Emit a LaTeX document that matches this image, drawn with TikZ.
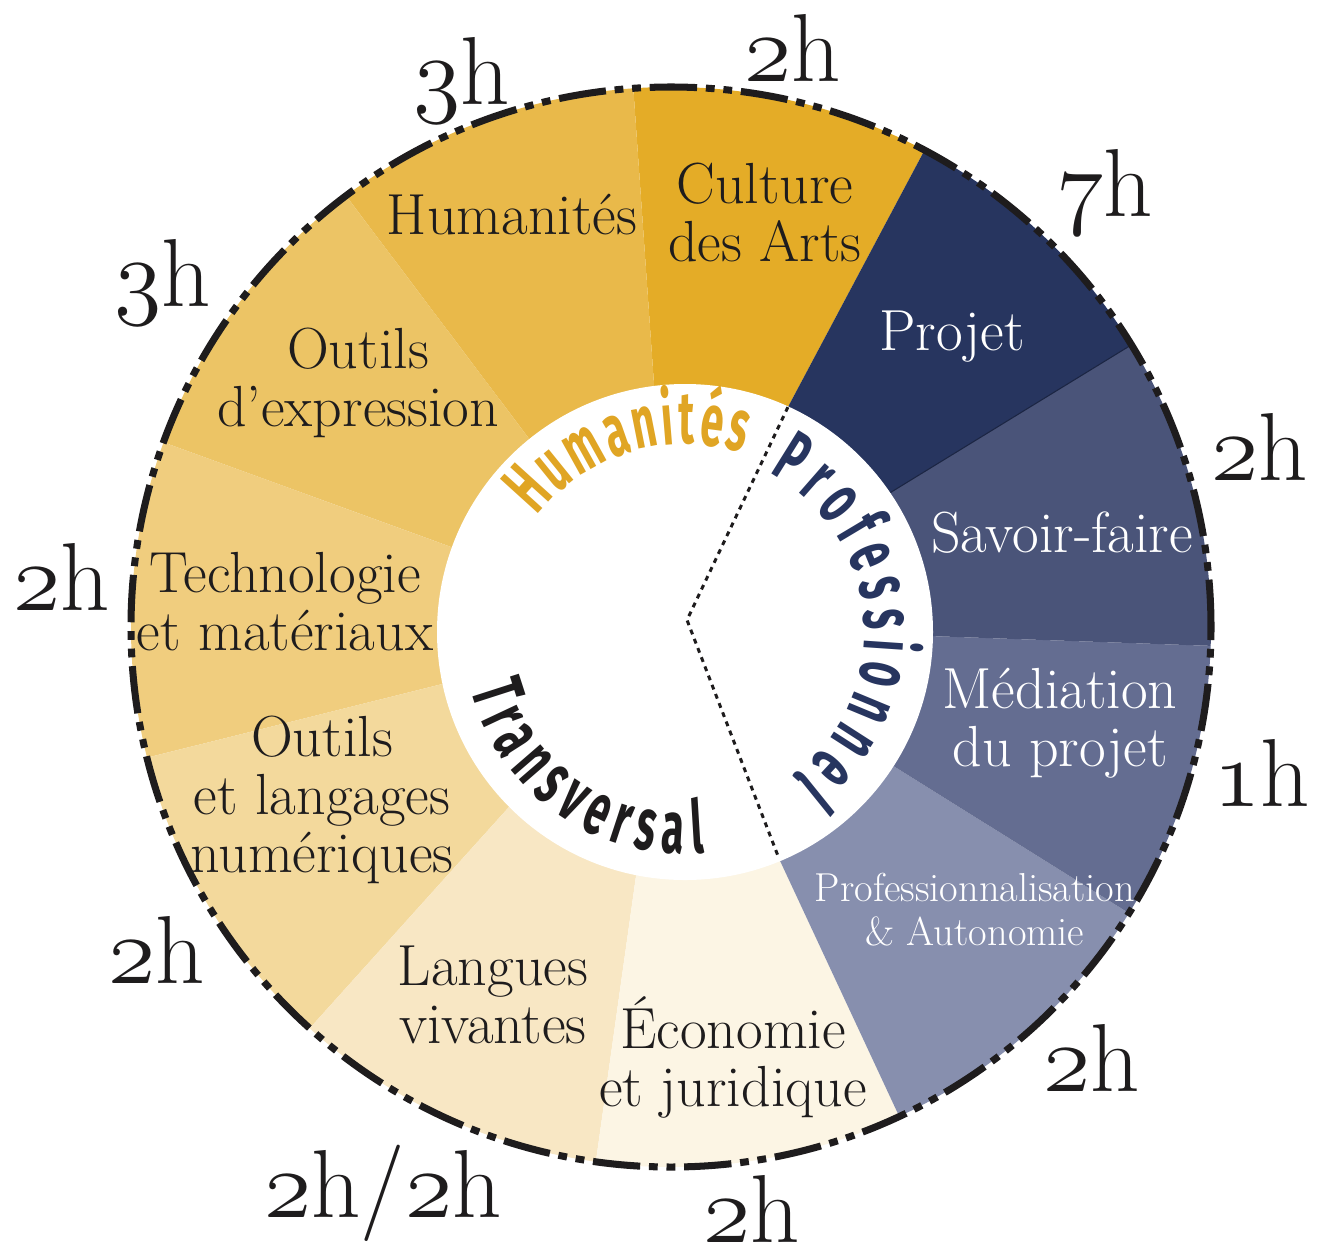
\RequirePackage{fix-cm}
\documentclass[tikz,border=0pt]{standalone}
\usepackage{fontspec}
\usetikzlibrary{calc, decorations.text}

\newfontfamily\manuscrit[FakeStretch=0.56]{Fira Sans}
\newcommand{\heures}[1]{{\usefont{OML}{cmm}{m}{it}#1}h}

% Couleurs des secteurs
\definecolor{culture}{HTML}{E4AC27}
\definecolor{humain}{HTML}{E9B94A}
\definecolor{outexpr}{HTML}{ECC465}
\definecolor{techno}{HTML}{F0CD7E}
\definecolor{outnum}{HTML}{F3D99C}
\definecolor{langues}{HTML}{F8E7C4}
\definecolor{eco}{HTML}{FCF5E4}
\definecolor{prof}{HTML}{878FAE}
\definecolor{media}{HTML}{646D91}
\definecolor{savoir}{HTML}{4A5479}
\definecolor{projet}{HTML}{27355F}
\definecolor{or}{HTML}{E0A524}
\definecolor{encre}{HTML}{1E1C1D}

\begin{document}
\begin{tikzpicture}[x=0.02cm, y=0.02cm,
    secteur/.style={font=\fontsize{33}{33}\selectfont, align=center, text=encre},
    secteurclair/.style={secteur, text=white},
    secteurpetit/.style={font=\fontsize{23}{25}\selectfont, align=center, text=white},
    duree/.style={font=\fontsize{55}{60}\selectfont, text=encre, inner sep=0pt},
    bordure/.style={line width=4pt, encre, dash pattern=on 27pt off 5pt on 5pt off 5pt on 5pt off 5pt},
    pointille/.style={line width=1.7pt, encre, dash pattern=on 2.8pt off 2.8pt},
    pole/.style={decorate, decoration={text along path, text align=fit to path, text color=#1}}]

    \useasboundingbox (-671,-622) rectangle (646,627);

    % Centres
    \coordinate (O) at (0,0);
    \coordinate (I) at (14,-5);

    % Secteurs de l'anneau
    \foreach \debut/\fin/\teinte in {62/94/culture, 94/127/humain, 127/160/outexpr,
        160/194/techno, 194/228/outnum, 228/262/langues, 262/295/eco,
        295/328/prof, 328/358/media, 358/391.5/savoir, 391.5/422/projet}
        \fill[\teinte] (O) -- (\debut:540) arc[start angle=\debut, end angle=\fin, radius=540] -- cycle;
    \draw[projet!70!black, line width=0.6pt] (O) -- (31.5:540);
    \fill[white] (I) circle[radius=248];
    \draw[bordure] (O) circle[radius=540];

    % Noms des enseignements
    \node[secteur] (culture) at (94,415) {Culture\\des Arts};
    \node[secteur] (humanites) at (-159,412) {Humanités};
    \node[secteur] (expression) at (-313,244) {Outils\\d’expression};
    \node[secteur] (technologie) at (-386,25) {Technologie\\et matériaux};
    \node[secteur] (numerique) at (-349,-173) {Outils\\et langages\\numériques};
    \node[secteur] (langues) at (-178,-368) {Langues\\vivantes};
    \node[secteur] (economie) at (62,-430) {Économie\\et juridique};
    \node[secteurclair] (projet) at (281,290) {Projet};
    \node[secteurclair] (savoir) at (391,94) {Savoir-faire};
    \node[secteurclair] (mediation) at (389,-96) {Médiation\\du projet};
    \node[secteurpetit] (autonomie) at (304,-283) {Professionnalisation\\\& Autonomie};

    % Volumes horaires
    \node[duree] (h1) at (-209,547) {\heures{3}};
    \node[duree] (h2) at (122,579) {\heures{2}};
    \node[duree] (h3) at (434,435) {\heures{7}};
    \node[duree] (h4) at (-508,345) {\heures{3}};
    \node[duree] (h5) at (589,180) {\heures{2}};
    \node[duree] (h6) at (-609,50) {\heures{2}};
    \node[duree] (h7) at (591,-146) {\heures{1}};
    \node[duree] (h8) at (-514,-323) {\heures{2}};
    \node[duree] (h9) at (421,-431) {\heures{2}};
    \node[duree] (h10) at (-288,-566) {\heures{2}/\heures{2}};
    \node[duree] (h11) at (81,-582) {\heures{2}};

    % Pôles au centre
    \path[pole=or, decoration={text={|\manuscrit\bfseries\fontsize{42}{42}\selectfont|Humanités}}]
        ($(I)+(142:188)$) arc[start angle=142, end angle=72, radius=188];
    \path[pole=projet, decoration={text={|\manuscrit\bfseries\fontsize{42}{42}\selectfont|Professionnel}}]
        ($(I)+(62:180)$) arc[start angle=62, end angle=-53, radius=180];
    \path[pole=encre, decoration={text={|\manuscrit\bfseries\fontsize{42}{42}\selectfont|Transversal}}]
        ($(I)+(195:222)$) arc[start angle=195, end angle=275, radius=222];

    % Séparation des pôles
    \coordinate (haut) at (62:249);
    \coordinate (pointe) at (16,7);
    \coordinate (bas) at (-65:256);
    \draw[pointille] (haut) -- (pointe) -- (bas);

\end{tikzpicture}
\end{document}
